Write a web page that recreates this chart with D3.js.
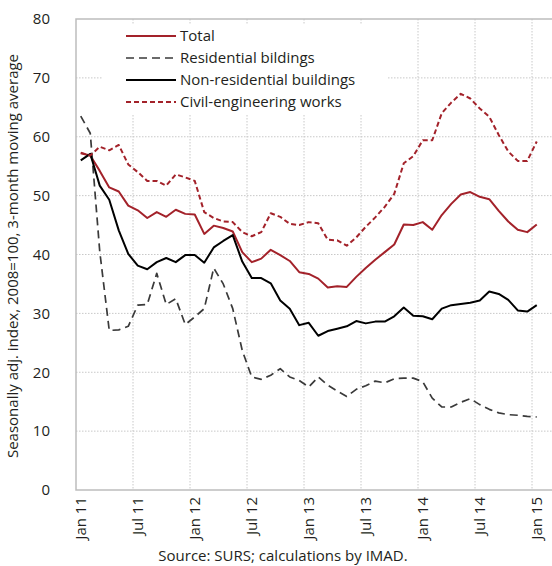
<!DOCTYPE html>
<html>
<head>
<meta charset="utf-8">
<script src="https://cdn.jsdelivr.net/npm/d3@7"></script>
<style>
  body { margin: 0; background: #fff; }
  svg { display: block; font-family: "Open Sans", sans-serif; }
</style>
</head>
<body>
<div id="chart"></div>
<script>
// monthly, Jan 11 .. Jan 15
const months = ['Jan','Feb','Mar','Apr','May','Jun','Jul','Aug','Sep','Oct','Nov','Dec']
const periods = d3.range(49).map(i => months[i % 12] + ' ' + (11 + Math.floor(i / 12)))
const tickLabels = ['Jan 11','Jul 11','Jan 12','Jul 12','Jan 13','Jul 13','Jan 14','Jul 14','Jan 15']
const yTicks = [0, 10, 20, 30, 40, 50, 60, 70, 80]

const total = [57.2, 56.8, 54.2, 51.4, 50.7, 48.3, 47.5, 46.2, 47.2, 46.4, 47.6, 46.9, 46.8,
  43.5, 44.9, 44.5, 43.9, 40.4, 38.7, 39.3, 40.8, 39.9, 38.9, 37.0, 36.7,
  35.9, 34.4, 34.6, 34.5, 36.2, 37.7, 39.1, 40.4, 41.7, 45.1, 45.0, 45.5,
  44.2, 46.7, 48.6, 50.2, 50.6, 49.8, 49.4, 47.4, 45.6, 44.2, 43.8, 45.1]
const residential = [63.5, 60.6, 40.5, 27.1, 27.2, 27.8, 31.4, 31.5, 36.8, 31.5, 32.5, 28.1, 29.4,
  30.8, 37.7, 35.0, 30.8, 23.7, 19.2, 18.8, 19.5, 20.6, 19.2, 18.6, 17.5,
  19.2, 17.8, 16.8, 15.9, 17.1, 17.7, 18.5, 18.2, 18.9, 19.0, 19.0, 18.4,
  15.6, 14.1, 14.1, 14.9, 15.5, 14.5, 13.7, 13.1, 12.8, 12.7, 12.5, 12.4]
const nonResidential = [56.0, 57.1, 51.7, 49.3, 44.1, 40.1, 38.1, 37.5, 38.7, 39.4, 38.7, 39.9, 39.9,
  38.6, 41.2, 42.3, 43.3, 38.8, 36.0, 36.0, 35.1, 32.2, 30.8, 28.0, 28.4,
  26.2, 27.0, 27.4, 27.8, 28.7, 28.3, 28.6, 28.6, 29.5, 31.0, 29.6, 29.5,
  29.0, 30.8, 31.4, 31.6, 31.8, 32.2, 33.7, 33.3, 32.3, 30.5, 30.3, 31.4]
const civil = [57.3, 56.8, 58.3, 57.7, 58.6, 55.3, 54.0, 52.5, 52.5, 51.7, 53.6, 53.1, 52.5,
  47.2, 46.2, 45.6, 45.5, 43.8, 43.1, 43.8, 47.0, 46.4, 45.2, 45.0, 45.5,
  45.3, 42.5, 42.4, 41.5, 42.9, 44.7, 46.3, 48.1, 50.3, 55.5, 56.7, 59.4,
  59.4, 64.0, 65.8, 67.3, 66.5, 64.8, 63.4, 60.3, 57.5, 55.9, 55.9, 59.2]

const series = [
  { name: 'Total', values: total, color: '#a3222a', dash: null, width: 2 },
  { name: 'Residential bildings', values: residential, color: '#3a3a3a', dash: '8,5', width: 1.7 },
  { name: 'Non-residential buildings', values: nonResidential, color: '#000', dash: null, width: 2 },
  { name: 'Civil-engineering works', values: civil, color: '#a3222a', dash: '5,3', width: 2 }
]

const width = 552, height = 566
const plot = { left: 76, right: 541.5, top: 19, bottom: 490 }
const fs = 15

const svg = d3.select('#chart').append('svg')
  .attr('width', width)
  .attr('height', height)

const x = d3.scaleBand()
  .domain(periods)
  .range([plot.left, plot.right])
const y = d3.scaleLinear()
  .domain([0, 80])
  .range([plot.bottom, plot.top])
const cx = p => x(p) + x.bandwidth() / 2

// gridlines
svg.append('g')
  .selectAll('line')
  .data(yTicks.filter(d => d > 0 && d < 80))
  .join('line')
  .attr('x1', plot.left).attr('x2', width)
  .attr('y1', d => y(d)).attr('y2', d => y(d))
  .attr('stroke', '#c8c8c8')
  .attr('stroke-dasharray', '1.5,1.5')
svg.append('g')
  .selectAll('line')
  .data(tickLabels.slice(1))
  .join('line')
  .attr('x1', d => x(d)).attr('x2', d => x(d))
  .attr('y1', plot.top).attr('y2', plot.bottom)
  .attr('stroke', '#c8c8c8')
  .attr('stroke-dasharray', '1.5,1.5')

// frame
svg.append('path')
  .attr('d', `M${width},${plot.top}H${plot.left}V${plot.bottom}H${width}`)
  .attr('fill', 'none')
  .attr('stroke', '#bdbdbd')
  .attr('stroke-width', 1.5)

// y axis labels
svg.append('g')
  .attr('transform', `translate(${plot.left},0)`)
  .call(d3.axisLeft(y).tickValues(yTicks).tickSize(0).tickPadding(26))
  .call(g => g.select('.domain').remove())
  .selectAll('text')
  .attr('font-size', fs)
  .attr('font-family', '"Open Sans", sans-serif')
  .attr('fill', '#231f20')

// x axis labels
svg.append('g')
  .attr('transform', `translate(0,${plot.bottom})`)
  .call(d3.axisBottom(x).tickValues(tickLabels).tickSize(0))
  .call(g => g.select('.domain').remove())
  .selectAll('text')
  .attr('font-size', fs)
  .attr('font-family', '"Open Sans", sans-serif')
  .attr('fill', '#231f20')
  .attr('text-anchor', 'end')
  .attr('transform', 'rotate(-90)')
  .attr('x', -7)
  .attr('y', 0)
  .attr('dy', '0.35em')

// legend box covers gridlines
const legend = svg.append('g')
legend.append('rect')
  .attr('x', 103).attr('y', 25)
  .attr('width', 284).attr('height', 90)
  .attr('fill', '#fff')

// lines
const line = d3.line()
  .x((d, i) => cx(periods[i]))
  .y(d => y(d))
svg.append('g')
  .selectAll('path')
  .data(series)
  .join('path')
  .attr('fill', 'none')
  .attr('stroke', d => d.color)
  .attr('stroke-width', d => d.width)
  .attr('stroke-dasharray', d => d.dash)
  .attr('stroke-linejoin', 'round')
  .attr('d', d => line(d.values))

const rows = legend.selectAll('g.row')
  .data(series)
  .join('g')
  .attr('class', 'row')
  .attr('transform', (d, i) => `translate(126,${36 + i * 22})`)
rows.append('line')
  .attr('x1', 0).attr('x2', 50)
  .attr('stroke', d => d.color)
  .attr('stroke-width', d => d.width)
  .attr('stroke-dasharray', d => d.dash)
rows.append('text')
  .attr('x', 54)
  .attr('dy', '0.35em')
  .attr('font-size', fs)
  .attr('fill', '#231f20')
  .text(d => d.name)

// axis title
svg.append('text')
  .attr('transform', 'translate(18,256) rotate(-90)')
  .attr('text-anchor', 'middle')
  .attr('font-size', fs)
  .attr('fill', '#231f20')
  .text('Seasonally adj. index, 2008=100, 3-month moving average')

svg.append('text')
  .attr('x', 283)
  .attr('y', 561)
  .attr('text-anchor', 'middle')
  .attr('font-size', fs)
  .attr('fill', '#231f20')
  .text('Source: SURS; calculations by IMAD.')
</script>
</body>
</html>
